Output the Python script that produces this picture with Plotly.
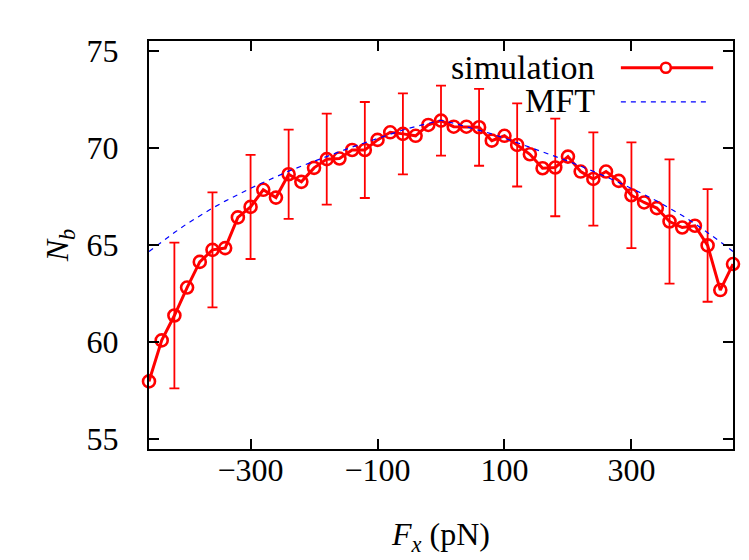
import plotly.graph_objects as go

fx = [-460, -440, -420, -400, -380, -360, -340, -320, -300, -280, -260, -240,
      -220, -200, -180, -160, -140, -120, -100, -80, -60, -40, -20, 0,
      20, 40, 60, 80, 100, 120, 140, 160, 180, 200, 220, 240, 260, 280,
      300, 320, 340, 360, 380, 400, 420, 440, 460]

nb_sim = [57.98, 60.09, 61.37, 62.81, 64.13, 64.75, 64.84, 66.42, 66.96, 67.84,
          67.44, 68.64, 68.25, 68.97, 69.42, 69.45, 69.89, 69.89, 70.41, 70.80,
          70.72, 70.62, 71.18, 71.40, 71.09, 71.09, 71.06, 70.37, 70.62, 70.15,
          69.67, 68.95, 68.99, 69.55, 68.78, 68.40, 68.78, 68.30, 67.56, 67.19,
          66.90, 66.21, 65.90, 65.99, 64.98, 62.68, 64.02]

# error bars only on every third point, starting at -420
nb_err = [3.75, 2.96, 2.68, 2.30, 2.34, 2.47, 2.08, 1.80, 1.98, 2.14, 2.51,
          2.40, 2.72, 3.20, 2.90]

nb_mft = [64.67, 65.17, 65.64, 66.10, 66.52, 66.90, 67.26, 67.60, 67.92, 68.22,
          68.52, 68.80, 69.06, 69.32, 69.56, 69.80, 70.04, 70.27, 70.50, 70.72,
          70.92, 71.10, 71.27, 71.42, 71.27, 71.10, 70.92, 70.72, 70.50, 70.27,
          70.04, 69.80, 69.56, 69.32, 69.06, 68.80, 68.52, 68.22, 67.92, 67.60,
          67.26, 66.90, 66.52, 66.10, 65.64, 65.17, 64.67]

x_ticks = [-300, -100, 100, 300]
y_ticks = [55, 60, 65, 70, 75]

RED = "#ff0000"
BLUE = "#0000ff"
FONT = "Liberation Serif"

fig = go.Figure()

fig.add_trace(
    go.Scatter(
        x=fx[2::3],
        y=nb_sim[2::3],
        mode="markers",
        marker=dict(size=1, color="rgba(0,0,0,0)"),
        error_y=dict(type="data", array=nb_err, color=RED, thickness=1.8, width=5),
        showlegend=False,
        cliponaxis=False,
    )
)
fig.add_trace(
    go.Scatter(
        x=fx,
        y=nb_sim,
        mode="lines+markers",
        line=dict(color=RED, width=3),
        marker=dict(symbol="circle-open", size=12, color=RED, line=dict(width=2.6, color=RED)),
        showlegend=False,
        cliponaxis=False,
    )
)
fig.add_trace(
    go.Scatter(
        x=fx,
        y=nb_mft,
        mode="lines",
        line=dict(color=BLUE, width=1.2, dash="5px,5px"),
        showlegend=False,
    )
)

# legend drawn by hand: text on the left, sample on the right (gnuplot style)
fig.add_annotation(x=0.767, y=0.935, xref="paper", yref="paper", text="simulation",
                   showarrow=False, xanchor="right", yanchor="middle",
                   font=dict(family=FONT, size=34, color="black"))
fig.add_annotation(x=0.767, y=0.855, xref="paper", yref="paper", text="MFT",
                   showarrow=False, xanchor="right", yanchor="middle",
                   font=dict(family=FONT, size=34, color="black"))
fig.add_shape(type="line", xref="paper", yref="paper", x0=0.808, x1=0.966,
              y0=0.9346, y1=0.9346, line=dict(color=RED, width=3))
fig.add_shape(type="circle", xref="paper", yref="paper", xsizemode="pixel",
              ysizemode="pixel", xanchor=0.885, yanchor=0.9346, x0=-5, x1=5,
              y0=-5, y1=5, line=dict(color=RED, width=2.6), fillcolor="white")
fig.add_shape(type="line", xref="paper", yref="paper", x0=0.808, x1=0.954,
              y0=0.851, y1=0.851, line=dict(color=BLUE, width=1.2, dash="5px,5px"))

axis_common = dict(
    showline=True,
    linecolor="black",
    linewidth=2,
    mirror="ticks",
    ticks="inside",
    ticklen=10,
    tickwidth=1.5,
    tickcolor="black",
    showgrid=False,
    zeroline=False,
    automargin=False,
    tickfont=dict(family=FONT, size=32, color="black"),
)

# the page has an 8px body margin, so the figure is 8px smaller than the window
fig.update_layout(
    width=741,
    height=552,
    paper_bgcolor="white",
    plot_bgcolor="white",
    margin=dict(l=141, r=16, t=33, b=111),
    font=dict(family=FONT, color="black"),
    xaxis=dict(
        **axis_common,
        range=[-460, 460],
        tickvals=x_ticks,
        ticklabelstandoff=-8,
        title=dict(text="<i>F<sub>x</sub></i> (pN)",
                   font=dict(family=FONT, size=32, color="black"), standoff=35),
    ),
    yaxis=dict(
        **axis_common,
        range=[54.5, 75.5],
        tickvals=y_ticks,
        ticklabelstandoff=22,
        title=dict(text="<i>N<sub>b</sub></i>",
                   font=dict(family=FONT, size=32, color="black"), standoff=8),
    ),
)

fig.write_html("out.html")
